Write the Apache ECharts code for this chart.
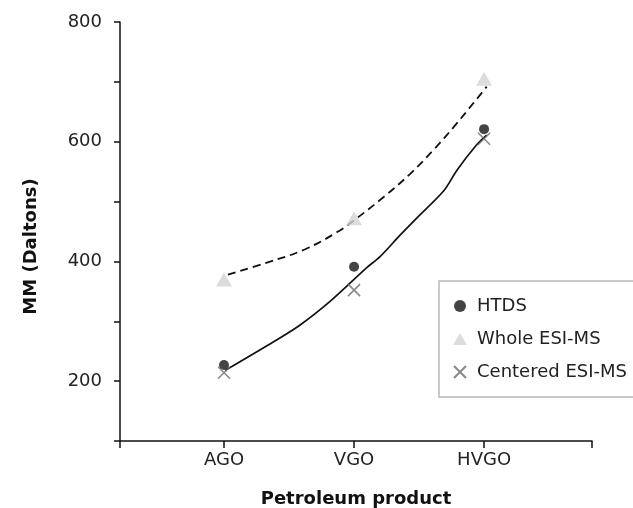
<!DOCTYPE html>
<html lang="en">
<head>
    <meta charset="utf-8">
    <script src="https://cdn.jsdelivr.net/npm/echarts@6/dist/echarts.min.js"></script>
    <style>
        html, body { margin: 0; padding: 0; background: #fff; }
        #chart { width: 633px; height: 508px; }
    </style>
</head>
<body>
<div id="chart"></div>

<script type="text/javascript">
    // categories sit at x = 1, 2, 3 on a value axis
    var categories = ['AGO', 'VGO', 'HVGO'];
    var yTicks = [200, 400, 600, 800];

    var htds = [227, 391, 621];
    var wholeEsi = [370, 472, 705];
    var centeredEsi = [214, 352, 605];

    // fitted curves: [x, MM]
    var htdsFit = [[1.01, 218], [1.33, 259], [1.58, 293], [1.82, 334], [2.1, 390], [2.2, 408],
        [2.35, 443], [2.48, 472], [2.69, 518], [2.79, 552], [2.94, 594], [3.02, 611]];
    var wholeFit = [[1.03, 378], [1.33, 398], [1.62, 420], [1.87, 449], [2.02, 472], [2.23, 508],
        [2.43, 546], [2.61, 586], [2.78, 628], [2.92, 665], [3.02, 692]];

    function pts(vals) {
        return vals.map(function (v, i) { return [i + 1, v]; });
    }

    var font = 'DejaVu Sans';
    var crossPath = 'path://M0,0L10,10M10,0L0,10';
    var triPath = 'path://M7,0L14,12L0,12Z';
    var xMin = 0.2, xMax = 3.83;

    var chart = echarts.init(document.getElementById('chart'));
    var option = {
        animation: false,
        textStyle: { fontFamily: font },
        grid: { left: 120, right: 41, top: 22, bottom: 67, containLabel: false, outerBoundsMode: 'none' },
        legend: {
            orient: 'vertical',
            left: 439,
            top: 281,
            padding: [14, 60, 14, 14],
            itemGap: 11,
            itemWidth: 24,
            itemHeight: 12,
            symbolKeepAspect: true,
            borderColor: '#b8b8b8',
            borderWidth: 1.5,
            textStyle: { fontFamily: font, fontSize: 18, color: '#222', lineHeight: 22 },
            data: [
                { name: 'HTDS', icon: 'circle' },
                { name: 'Whole ESI-MS', icon: triPath },
                { name: 'Centered ESI-MS', icon: crossPath }
            ]
        },
        xAxis: {
            type: 'value',
            min: xMin,
            max: xMax,
            name: 'Petroleum product',
            nameLocation: 'middle',
            nameGap: 49,
            nameTextStyle: { fontFamily: font, fontSize: 18, color: '#111', fontWeight: 'bold' },
            splitLine: { show: false },
            axisLine: { lineStyle: { color: '#111', width: 1.5 } },
            axisTick: {
                customValues: [xMin, 1, 2, 3, xMax],
                length: 7,
                lineStyle: { color: '#111', width: 1.5 }
            },
            axisLabel: {
                customValues: [1, 2, 3],
                margin: 10,
                fontSize: 18,
                color: '#222',
                formatter: function (v) { return categories[Math.round(v) - 1]; }
            }
        },
        yAxis: {
            type: 'value',
            min: 100,
            max: 800,
            interval: 100,
            name: 'MM (Daltons)',
            nameLocation: 'middle',
            nameGap: 80,
            nameTextStyle: { fontFamily: font, fontSize: 18, color: '#111', fontWeight: 'bold', padding: [0, 30, 0, 0] },
            splitLine: { show: false },
            axisLine: { show: true, lineStyle: { color: '#111', width: 1.5 } },
            axisTick: { length: 6, lineStyle: { color: '#111', width: 1.5 } },
            axisLabel: {
                margin: 18,
                fontSize: 18,
                color: '#222',
                formatter: function (v) { return yTicks.indexOf(v) >= 0 ? String(v) : ''; }
            }
        },
        series: [
            {
                name: 'fit-whole',
                type: 'line',
                data: wholeFit,
                smooth: 0.4,
                showSymbol: false,
                silent: true,
                lineStyle: { color: '#111', width: 1.8, type: [8, 5] },
                z: 1
            },
            {
                name: 'fit-htds',
                type: 'line',
                data: htdsFit,
                smooth: 0.3,
                showSymbol: false,
                silent: true,
                lineStyle: { color: '#111', width: 1.7 },
                z: 1
            },
            {
                name: 'HTDS',
                type: 'scatter',
                data: pts(htds),
                symbol: 'circle',
                symbolSize: 10,
                itemStyle: { color: '#151515' },
                z: 3
            },
            {
                name: 'Whole ESI-MS',
                type: 'scatter',
                data: pts(wholeEsi),
                symbol: triPath,
                symbolSize: [16, 14],
                itemStyle: { color: '#d3d3d3' },
                z: 2
            },
            {
                name: 'Centered ESI-MS',
                type: 'scatter',
                data: pts(centeredEsi),
                symbol: crossPath,
                symbolSize: 12,
                itemStyle: { color: 'transparent', borderColor: '#6a6a6a', borderWidth: 1.6 },
                z: 3
            }
        ]
    };
    chart.setOption(option);
</script>
</body>
</html>
